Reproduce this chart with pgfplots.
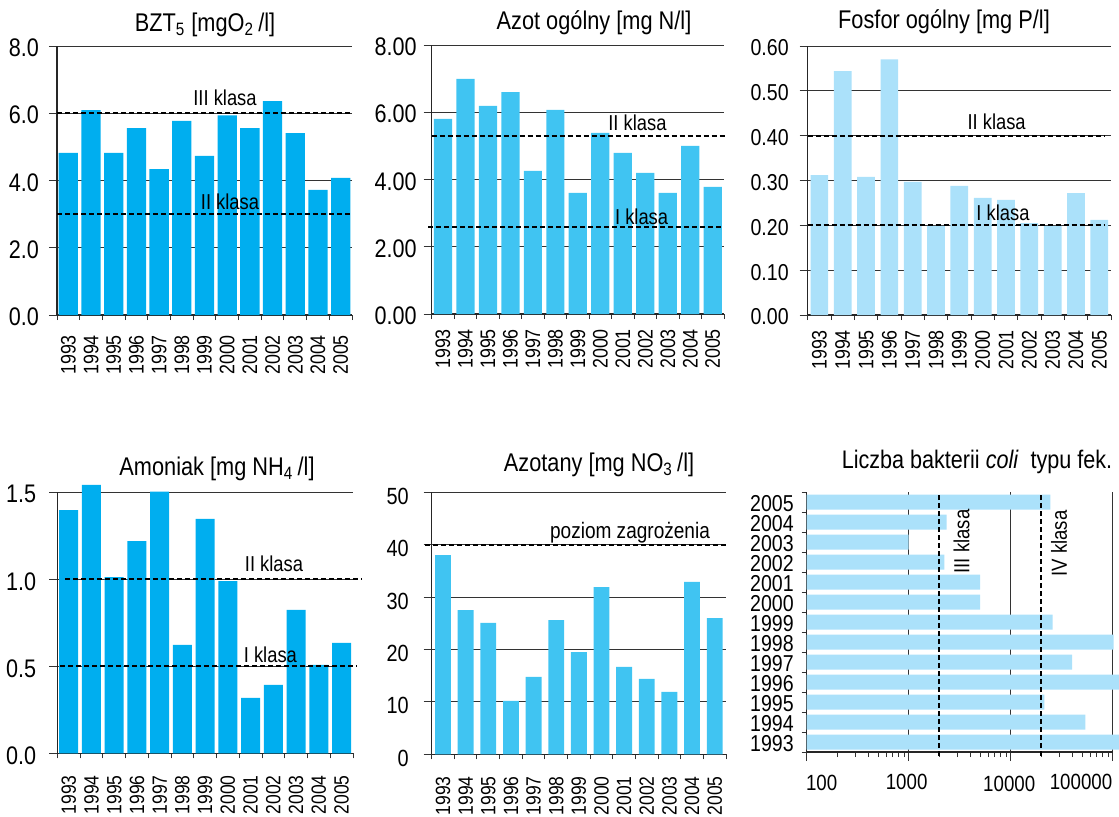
\documentclass[border=0pt]{standalone}
\usepackage{fontspec}
\setmainfont{Liberation Sans}[FakeStretch=0.85]
\usepackage{pgfplots}
\pgfplotsset{compat=1.18}
\definecolor{cA}{HTML}{00AEEF}
\definecolor{cB}{HTML}{40C4F2}
\definecolor{cC}{HTML}{ABE1FA}
\newcommand{\fs}[1]{\fontsize{#1}{#1}\selectfont}
\pgfplotsset{
 base/.style={scale only axis, clip=false, anchor=south west,
   axis line style={-, line width=0.6pt, black!85},
   grid style={line width=0.5pt, black!80},
   tick style={line width=0.5pt, black!80},
   tick align=outside, major tick length=4pt, minor tick length=2.5pt,
   /pgf/number format/assume math mode=true},
 vbars/.style={base, axis x line*=bottom, axis y line*=left, ymajorgrids,
   xmin=0.5, xmax=13.5, ymin=0,
   xtick={1,...,13},
   xticklabels={1993,1994,1995,1996,1997,1998,1999,2000,2001,2002,2003,2004,2005},
   major x tick style={draw=none},
   minor xtick={0.5,1.5,...,13.5},
   xticklabel style={rotate=90, anchor=east, font=\fs{10.5}},
 },
 thr/.style={black, line width=1pt, dash pattern=on 2.5pt off 1.5pt, forget plot},
}
\begin{document}
\begin{tikzpicture}
\path[use as bounding box] (0,0) rectangle (559.5pt,408pt);
% Panel 1
\begin{axis}[vbars, at={(28.5pt,250.5pt)}, width=147.5pt, height=134.5pt,
  ymax=8, ytick={0,2,...,8},
  xticklabel style={xshift=-2.5pt},
  yticklabel style={font=\fs{12.7}, xshift=-1.5pt, yshift=-1pt, /pgf/number format/.cd, fixed, fixed zerofill, precision=1}]
\addplot[ybar, bar width=0.85, fill=cA, draw=none] coordinates {(1,4.82) (2,6.09) (3,4.82) (4,5.56) (5,4.34) (6,5.77) (7,4.73) (8,5.94) (9,5.56) (10,6.36) (11,5.41) (12,3.72) (13,4.08)};
\addplot[thr] coordinates {(0.5,6) (13.5,6)};
\addplot[thr] coordinates {(0.5,3) (13.5,3)};
\end{axis}
% Panel 2
\begin{axis}[vbars, at={(215.85pt,251pt)}, width=146.15pt, height=134.5pt,
  ymax=8, ytick={0,2,...,8},
  yticklabel style={font=\fs{12.7}, yshift=-1pt, /pgf/number format/.cd, fixed, fixed zerofill, precision=2}]
\addplot[ybar, bar width=0.81, fill=cB, draw=none] coordinates {(1,5.80) (2,6.99) (3,6.19) (4,6.60) (5,4.26) (6,6.07) (7,3.60) (8,5.39) (9,4.79) (10,4.20) (11,3.60) (12,5.00) (13,3.78)};
\addplot[thr] coordinates {(0.5,5.3) (13.65,5.3)};
\addplot[thr] coordinates {(0.35,2.6) (13.47,2.6)};
\end{axis}
% Panel 3
\begin{axis}[vbars, at={(403.85pt,250.5pt)}, width=151.65pt, height=134.5pt,
  ymax=0.6, ytick={0,0.1,...,0.6},
  yticklabel style={font=\fs{11.5}, xshift=-2pt, yshift=-1pt, /pgf/number format/.cd, fixed, fixed zerofill, precision=2}]
\addplot[ybar, bar width=0.76, fill=cC, draw=none] coordinates {(1,0.312) (2,0.544) (3,0.308) (4,0.570) (5,0.297) (6,0.199) (7,0.288) (8,0.261) (9,0.257) (10,0.205) (11,0.199) (12,0.272) (13,0.212)};
\addplot[thr] coordinates {(0.5,0.4) (13.24,0.4)};
\addplot[thr] coordinates {(0.5,0.2) (13.24,0.2)};
\end{axis}
% Panel 4
\begin{axis}[vbars, at={(28.65pt,31.35pt)}, width=147.85pt, height=130.5pt,
  ymax=1.5, ytick={0,0.5,1,1.5},
  xticklabel style={xshift=-3.5pt, font=\fs{10.3}},
  yticklabel style={font=\fs{12.7}, xshift=-3pt, yshift=-1pt, /pgf/number format/.cd, fixed, fixed zerofill, precision=1}]
\addplot[ybar, bar width=0.84, fill=cA, draw=none] coordinates {(1,1.398) (2,1.542) (3,1.013) (4,1.220) (5,1.504) (6,0.623) (7,1.347) (8,0.990) (9,0.318) (10,0.393) (11,0.824) (12,0.508) (13,0.634)};
\addplot[thr] coordinates {(0.84,1) (13.88,1)};
\addplot[thr] coordinates {(0.62,0.5) (13.66,0.5)};
\end{axis}
% Panel 5
\begin{axis}[vbars, at={(215.85pt,30.85pt)}, width=147.15pt, height=131pt,
  ymax=50, ytick={0,10,...,50},
  xticklabel style={xshift=-3.5pt, font=\fs{10.3}},
  yticklabel style={font=\fs{11.7}, xshift=-4pt, yshift=-2pt}]
\addplot[ybar, bar width=0.70, fill=cB, draw=none] coordinates {(1,38.0) (2,27.5) (3,25.1) (4,10.2) (5,14.8) (6,25.6) (7,19.5) (8,31.9) (9,16.7) (10,14.4) (11,11.9) (12,32.9) (13,26.0)};
\addplot[thr] coordinates {(0.2,40) (13.5,40)};
\end{axis}
% Panel 6
\begin{axis}[base, at={(403.35pt,32pt)}, width=153pt, height=130pt,
  xmode=log, xmin=100, xmax=100000, ymin=0.5, ymax=13.5,
  axis x line*=bottom, axis y line*=left, xmajorgrids,
  log origin x=infty, major tick length=4.5pt,
  xtick={100,1000,10000,100000}, xticklabels={,,,},
  ytick={1,...,13},
  yticklabels={1993,1994,1995,1996,1997,1998,1999,2000,2001,2002,2003,2004,2005},
  major y tick style={draw=none},
  minor ytick={0.5,1.5,...,13.5},
  yticklabel style={font=\fs{11.5}, xshift=1.5pt, yshift=-1pt}]
\addplot[xbar, bar width=0.75, fill=cC, draw=none] coordinates {(115000,1) (54000,2) (21400,3) (115000,4) (40000,5) (102000,6) (25700,7) (5000,8) (5000,9) (2240,10) (1000,11) (2350,12) (24500,13)};
\addplot[thr] coordinates {(2000,0.3) (2000,13.5)};
\addplot[thr] coordinates {(20000,0.3) (20000,13.5)};
\end{axis}
% titles
\node[anchor=base, font=\fs{12.8}] at (102.5pt,392.2pt) {BZT\textsubscript{5} [mgO\textsubscript{2}\,/l]};
\node[anchor=base, font=\fs{12.8}] at (297pt,393pt) {Azot ogólny [mg N/l]};
\node[anchor=base, font=\fs{12.8}] at (472pt,393.5pt) {Fosfor ogólny [mg P/l]};
\node[anchor=base, font=\fs{12.8}] at (108.5pt,170.5pt) {Amoniak [mg NH\textsubscript{4}\,/l]};
\node[anchor=base, font=\fs{12.8}] at (299.5pt,172.2pt) {Azotany [mg NO\textsubscript{3}\,/l]};
\node[anchor=base, font=\fs{12.7}] at (488.5pt,173.8pt) {Liczba bakterii \textit{coli}\ \ typu fek.};
% class labels
\begin{scope}[every node/.style={anchor=base, font=\fs{10.8}, inner sep=0pt}]
\node at (112.5pt,355pt) {III klasa};
\node at (115pt,303.3pt) {II klasa};
\node at (318.7pt,342.7pt) {II klasa};
\node at (320.8pt,296pt) {I klasa};
\node at (498.3pt,343.3pt) {II klasa};
\node at (501.5pt,297.7pt) {I klasa};
\node at (137pt,122.2pt) {II klasa};
\node at (135.2pt,76.8pt) {I klasa};
\node[font=\fs{11.2}] at (315pt,138.8pt) {poziom zagrożenia};
\end{scope}
\node[rotate=90, font=\fs{10.9}, inner sep=0pt] at (480.8pt,137.2pt) {III klasa};
\node[rotate=90, font=\fs{10.9}, inner sep=0pt] at (529.5pt,136.3pt) {IV klasa};
% panel 6 x labels
\begin{scope}[every node/.style={anchor=base, font=\fs{11}, inner sep=0pt}]
\node at (410.8pt,13pt) {100};
\node at (453.3pt,13.3pt) {1000};
\node at (504.6pt,12.2pt) {10000};
\node at (540.5pt,13.3pt) {100000};
\end{scope}
\end{tikzpicture}
\end{document}
